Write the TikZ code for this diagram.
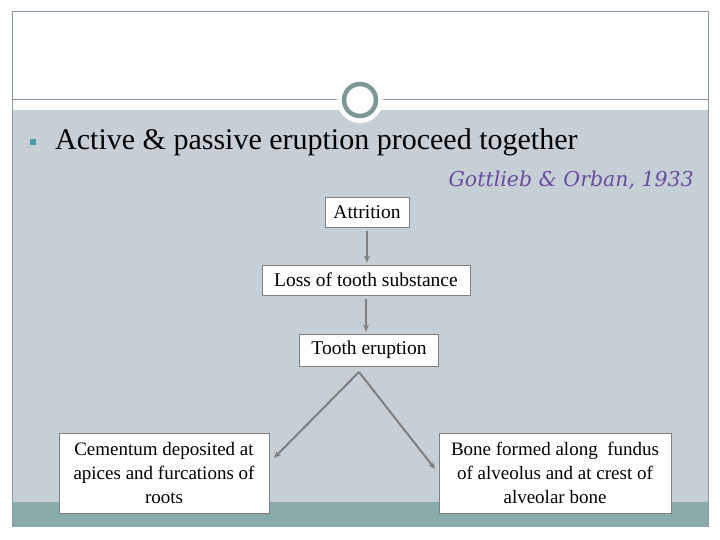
\documentclass[tikz,border=0pt]{standalone}
\usepackage{fontspec}
\setmainfont{Liberation Serif}
\newfontfamily\citefont{DejaVu Serif}
\usetikzlibrary{arrows.meta}
\definecolor{slidegrey}{HTML}{C5CFD5}
\definecolor{slideteal}{HTML}{8AABAB}
\definecolor{frameline}{HTML}{8E9A9A}
\definecolor{ringcol}{HTML}{7D9696}
\definecolor{bulletcol}{HTML}{4A9BAA}
\definecolor{citecol}{HTML}{6A4C9C}
\definecolor{arrowgrey}{HTML}{7F7F7F}
\tikzset{
  stepbox/.style={draw=arrowgrey,fill=white,line width=0.8pt,inner xsep=6pt,
    minimum height=30pt,font=\fontsize{19.5}{22}\selectfont},
  bigbox/.style={stepbox,align=center,minimum height=80pt,
    font=\fontsize{19}{24}\selectfont},
  flow/.style={draw=arrowgrey,line width=2pt,-{Stealth[length=7pt,width=6pt]}}
}
\begin{document}
\begin{tikzpicture}[x=1pt,y=-1pt]
  \useasboundingbox (0,0) rectangle (720,540);
  \fill[white] (0,0) rectangle (720,540);
  % slide background
  \fill[slidegrey] (12,110) rectangle (708,502);
  \fill[slideteal] (12,502) rectangle (708,527);
  \draw[frameline,line width=1pt] (12,527) -- (12,12) -- (708,12) -- (708,527);
  \draw[frameline,line width=1pt] (12,100) -- (708,100);
  \fill[white] (360,100) circle (23);
  \draw[ringcol,line width=4.5pt] (360,100) circle (16);
  % heading
  \fill[bulletcol] (30,139) rectangle (36,145);
  \node[anchor=base west,inner sep=0pt,font=\fontsize{30}{34}\selectfont] (title) at (55,150)
    {Active \& passive eruption proceed together};
  \node[anchor=base east,inner sep=0pt,text=citecol,font=\citefont\itshape\fontsize{20.5}{24}\selectfont] (cite) at (694,187)
    {Gottlieb \& Orban, 1933};
  % flow chart
  \node[stepbox,minimum width=84pt] (attr) at (367,212) {Attrition};
  \node[stepbox,minimum width=208pt] (loss) at (366,280) {Loss of tooth substance};
  \node[stepbox,minimum width=139pt,minimum height=32pt] (erupt) at (369,350) {Tooth eruption};
  \node[bigbox,minimum width=210pt] (cem) at (164,473)
    {Cementum deposited at\\apices and furcations of\\roots};
  \node[bigbox,minimum width=232pt] (bone) at (555,473)
    {Bone formed along\ \ fundus\\of alveolus and at crest of\\alveolar bone};
  \coordinate (split) at (359,372);
  \coordinate (cemtip) at (274,458);
  \coordinate (bonetip) at (435,469);
  \draw[flow,shorten <=4pt,shorten >=2pt] (attr.south -| 367,0) -- (loss.north -| 367,0);
  \draw[flow,shorten <=4pt,shorten >=2pt] (loss.south -| 366,0) -- (erupt.north -| 366,0);
  \draw[flow] (split) -- (cemtip);
  \draw[flow] (split) -- (bonetip);
\end{tikzpicture}
\end{document}
